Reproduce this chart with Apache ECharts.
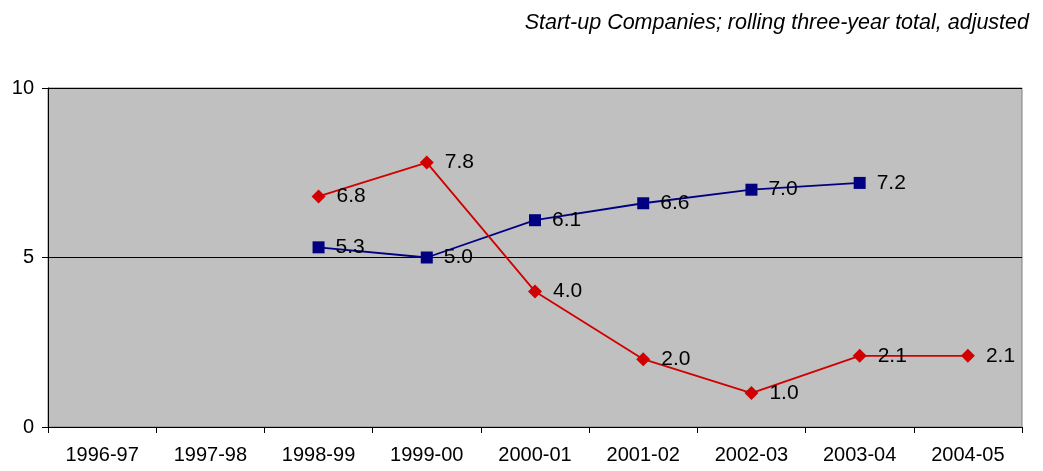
<!DOCTYPE html>
<html>
<head>
<meta charset="utf-8">
<script src="https://cdn.jsdelivr.net/npm/echarts@6/dist/echarts.min.js"></script>
<style>
  html, body { margin: 0; padding: 0; background: #ffffff; }
  #chart { width: 1043px; height: 471px; }
</style>
</head>
<body>
<div id="chart"></div>
<script>
// Financial years on the category axis
const years = ['1996-97', '1997-98', '1998-99', '1999-00', '2000-01', '2001-02', '2002-03', '2003-04', '2004-05'];
// Red diamond series
const redSeries = [null, null, 6.8, 7.8, 4.0, 2.0, 1.0, 2.1, 2.1];
// Navy square series
const blueSeries = [null, null, 5.3, 5.0, 6.1, 6.6, 7.0, 7.2, null];
// Value axis ticks
const yTicks = [0, 5, 10];

const FONT = 'Liberation Sans, Arial, sans-serif';

const chart = echarts.init(document.getElementById('chart'), null, { renderer: 'canvas' });

const labelStyle = {
  show: true,
  position: 'right',
  distance: 11,
  color: '#000000',
  fontFamily: FONT,
  fontSize: 21,
  formatter: p => p.value == null ? '' : Number(p.value).toFixed(1)
};

chart.setOption({
  animation: false,
  title: {
    text: 'Start-up Companies; rolling three-year total, adjusted',
    right: 9,
    top: 7,
    textStyle: {
      fontFamily: FONT,
      fontStyle: 'italic',
      fontWeight: 'normal',
      fontSize: 21.5,
      color: '#000000'
    }
  },
  grid: {
    left: 48,
    right: 21,
    top: 88,
    bottom: 44,
    show: true,
    backgroundColor: '#c0c0c0',
    borderColor: '#808080',
    borderWidth: 1
  },
  xAxis: {
    type: 'category',
    data: years,
    boundaryGap: true,
    axisLine: { show: true, lineStyle: { color: '#000000', width: 1 } },
    axisTick: { show: true, alignWithLabel: false, length: 6, lineStyle: { color: '#000000' } },
    axisLabel: {
      color: '#000000',
      fontFamily: FONT,
      fontSize: 20,
      margin: 18
    },
    splitLine: { show: false }
  },
  yAxis: {
    type: 'value',
    min: yTicks[0],
    max: yTicks[yTicks.length - 1],
    interval: 5,
    axisLine: { show: true, lineStyle: { color: '#000000', width: 1 } },
    axisTick: { show: true, length: 6, lineStyle: { color: '#000000' } },
    axisLabel: {
      color: '#000000',
      fontFamily: FONT,
      fontSize: 20,
      margin: 14
    },
    splitLine: { show: true, lineStyle: { color: '#000000', width: 1 } }
  },
  series: [
    {
      name: 'red',
      type: 'line',
      data: redSeries,
      symbol: 'diamond',
      symbolSize: 14,
      connectNulls: false,
      lineStyle: { color: '#d00000', width: 1.8 },
      itemStyle: { color: '#d00000' },
      label: labelStyle,
      z: 3
    },
    {
      name: 'blue',
      type: 'line',
      data: blueSeries,
      symbol: 'rect',
      symbolSize: 12,
      connectNulls: false,
      lineStyle: { color: '#000080', width: 1.8 },
      itemStyle: { color: '#000080' },
      label: labelStyle,
      z: 2
    }
  ]
});
</script>
</body>
</html>
